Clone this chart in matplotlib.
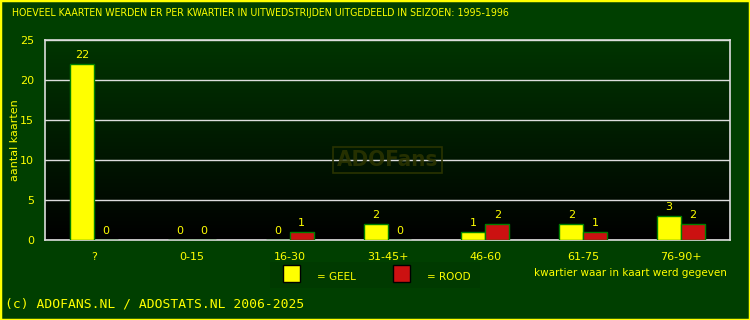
import matplotlib.pyplot as plt
import numpy as np
from matplotlib.patches import Rectangle

categories = ["?", "0-15", "16-30", "31-45+", "46-60", "61-75", "76-90+"]
geel = [22, 0, 0, 2, 1, 2, 3]
rood = [0, 0, 1, 0, 2, 1, 2]
yticks = [0, 5, 10, 15, 20, 25]

BG = "#003f00"
TXT = "#ffff00"
W, H = 750, 320


def main() -> None:
    fig = plt.figure(figsize=(W / 100, H / 100), dpi=100, facecolor=BG)
    ax = fig.add_axes([45 / W, 1 - 240 / H, (730 - 45) / W, 200 / H])

    # gradient background: dark green top -> black bottom
    grad = np.linspace(0, 1, 256).reshape(-1, 1)
    cmap = plt.matplotlib.colors.LinearSegmentedColormap.from_list("g", ["#000000", "#003500"])
    ax.imshow(grad, extent=[-0.5, len(categories) - 0.5, 0, 25], origin="lower",
              aspect="auto", cmap=cmap, zorder=0)

    x = np.arange(len(categories))
    w = 0.245
    ax.bar(x - w / 2, geel, w, color="#ffff00", edgecolor="#008000", linewidth=1, zorder=3)
    ax.bar(x + w / 2, rood, w, color="#cc1111", edgecolor="#008000", linewidth=1, zorder=3)
    for xi, g, r in zip(x, geel, rood):
        ax.text(xi - w / 2, g + 0.45, str(g), ha="center", va="bottom", color=TXT, fontsize=8, zorder=4)
        ax.text(xi + w / 2, r + 0.45, str(r), ha="center", va="bottom", color=TXT, fontsize=8, zorder=4)

    ax.set_xlim(-0.5, len(categories) - 0.5)
    ax.set_ylim(0, 25)
    ax.set_yticks(yticks)
    ax.set_xticks(x)
    ax.set_xticklabels(categories)
    ax.tick_params(colors=TXT, labelsize=8, length=0, pad=8)
    ax.tick_params(axis="x", pad=9)
    ax.grid(axis="y", color="#dddddd", linewidth=1, zorder=1)
    for s in ax.spines.values():
        s.set_color("#dddddd")
        s.set_linewidth(1.2)
    ax.set_ylabel("aantal kaarten", color=TXT, fontsize=8, labelpad=0)

    # watermark
    ax.text(3, 10, "ADOFans", ha="center", va="center", fontsize=16, fontweight="bold",
            fontstretch="condensed", color="#2a3300", alpha=0.9, zorder=2,
            bbox=dict(boxstyle="square,pad=0.15", fc="none", ec="#2a3300", lw=1.2))

    fig.text(12 / W, 1 - 13 / H, "HOEVEEL KAARTEN WERDEN ER PER KWARTIER IN UITWEDSTRIJDEN UITGEDEELD IN SEIZOEN: 1995-1996",
             color=TXT, fontsize=7.6, fontstretch="condensed", ha="left", va="center")

    # legend
    fig.patches.append(Rectangle((270 / W, 1 - 288 / H), 210 / W, 26 / H, transform=fig.transFigure,
                                 fc="#003a00", ec="none"))
    fig.patches.append(Rectangle((283 / W, 1 - 282 / H), 17 / W, 17 / H, transform=fig.transFigure,
                                 fc="#ffff00", ec="black", lw=1))
    fig.patches.append(Rectangle((393 / W, 1 - 282 / H), 17 / W, 17 / H, transform=fig.transFigure,
                                 fc="#cc1111", ec="black", lw=1))
    fig.text(317 / W, 1 - 277 / H, "= GEEL", color=TXT, fontsize=7.5, va="center")
    fig.text(427 / W, 1 - 277 / H, "= ROOD", color=TXT, fontsize=7.5, va="center")
    fig.text(727 / W, 1 - 273 / H, "kwartier waar in kaart werd gegeven", color=TXT, fontsize=7.5,
             ha="right", va="center")

    fig.text(5 / W, 1 - 304 / H, "(c) ADOFANS.NL / ADOSTATS.NL 2006-2025", color=TXT, fontsize=9.4,
             family="DejaVu Sans Mono", va="center")

    # yellow border
    fig.patches.append(Rectangle((0, 0), 1, 1, transform=fig.transFigure, fc="none", ec=TXT, lw=2.5))

    fig.savefig("out.png", dpi=100, facecolor=BG)


if __name__ == "__main__":
    main()
